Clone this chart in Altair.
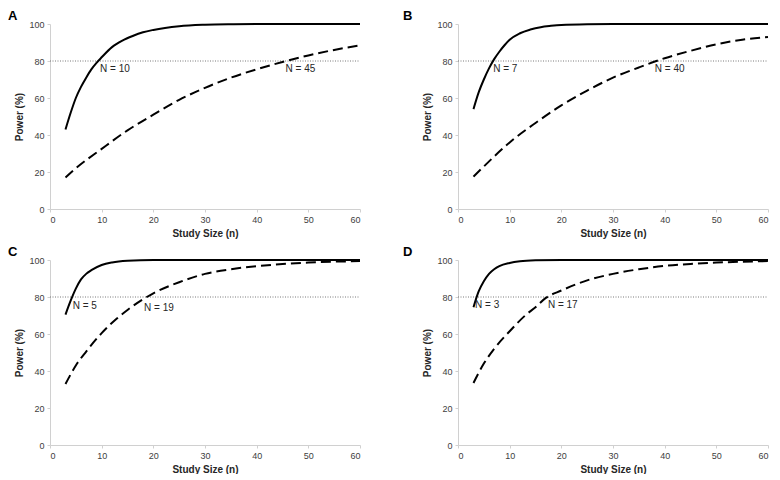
import altair as alt
import pandas as pd

# ---- data ----
panels = ["A", "B", "C", "D"]

solid_x = {
    "A": [3, 4, 5, 6, 7, 8, 9, 10, 12, 14, 16, 18, 20, 25, 30, 35, 40, 50, 60],
    "B": [3, 4, 5, 6, 7, 8, 9, 10, 12, 14, 16, 18, 20, 25, 30, 40, 50, 60],
    "C": [3, 4, 5, 6, 7, 8, 10, 12, 15, 20, 30, 40, 50, 60],
    "D": [3, 4, 5, 6, 7, 8, 10, 12, 15, 20, 30, 40, 50, 60],
}
solid_y = {
    "A": [43, 52, 60, 66, 71, 75.5, 79, 82, 87.5, 91, 93.5, 95.5, 96.8, 98.8, 99.6, 99.9, 100, 100, 100],
    "B": [54, 63, 70, 76, 81, 85, 88.5, 91.5, 95, 97, 98.3, 99, 99.5, 99.9, 100, 100, 100, 100],
    "C": [70.5, 78, 84.5, 89.5, 92.5, 94.5, 97.3, 98.7, 99.6, 100, 100, 100, 100, 100],
    "D": [74.5, 83, 88.5, 92.5, 95, 96.7, 98.4, 99.3, 99.8, 100, 100, 100, 100, 100],
}
dashed_x = {
    "A": [3, 5, 10, 15, 20, 25, 30, 35, 40, 45, 50, 55, 60],
    "B": [3, 5, 10, 15, 20, 25, 30, 35, 40, 45, 50, 55, 60],
    "C": [3, 5, 7, 10, 13, 15, 20, 25, 30, 35, 40, 45, 50, 55, 60],
    "D": [3, 5, 7, 10, 13, 15, 17, 20, 25, 30, 35, 40, 45, 50, 55, 60],
}
dashed_y = {
    "A": [17, 22, 32.5, 42.5, 51, 59, 65.5, 71, 75.5, 79.5, 83, 86, 88.5],
    "B": [17.5, 23, 36, 46.5, 56, 64, 71, 76.5, 81.5, 85.5, 89, 91.5, 93],
    "C": [33, 43, 50.5, 60.5, 68.5, 73, 82, 88, 92.5, 95, 96.7, 97.8, 98.6, 99.1, 99.4],
    "D": [33.5, 44, 52, 61.5, 70, 74.5, 79.5, 83.5, 89, 92.5, 95, 96.8, 97.9, 98.6, 99.1, 99.4],
}
label_text = {
    "A": ["N = 10", "N = 45"],
    "B": ["N = 7", "N = 40"],
    "C": ["N = 5", "N = 19"],
    "D": ["N = 3", "N = 17"],
}
label_x = {
    "A": [9.7, 45.6],
    "B": [6.8, 38.1],
    "C": [4.4, 18.2],
    "D": [3.3, 17.4],
}
label_y = {
    "A": [75.5, 75.5],
    "B": [75.5, 75.5],
    "C": [75, 74],
    "D": [75.5, 75.5],
}
threshold = 80
x_ticks = [0, 10, 20, 30, 40, 50, 60]
y_ticks = [0, 20, 40, 60, 80, 100]

# per-panel letter offset (px, left of the plot area)
letter_dx = {"A": -42, "B": -55, "C": -42, "D": -55}

FONT = "Liberation Sans"
AX = "#d0d0d0"
W, H = 310, 185


def panel(p):
    sol = pd.DataFrame({"n": solid_x[p], "power": solid_y[p]})
    das = pd.DataFrame({"n": dashed_x[p], "power": dashed_y[p]})
    lab = pd.DataFrame({"n": label_x[p], "power": label_y[p], "t": label_text[p]})
    ref = pd.DataFrame({"n": [0, 60], "power": [threshold, threshold]})

    x = alt.X("n:Q", scale=alt.Scale(domain=[0, 60], nice=False),
              axis=alt.Axis(values=x_ticks, title="Study Size (n)", grid=False))
    y = alt.Y("power:Q", scale=alt.Scale(domain=[0, 100], nice=False),
              axis=alt.Axis(values=y_ticks, title="Power (%)", grid=False))

    ref_line = alt.Chart(ref).mark_line(color="#7a7a7a", strokeWidth=1,
                                        strokeDash=[1, 1.5]).encode(x=x, y=y)
    s_line = alt.Chart(sol).mark_line(color="black", strokeWidth=2,
                                      interpolate="monotone").encode(x=x, y=y)
    d_line = alt.Chart(das).mark_line(color="black", strokeWidth=2,
                                      strokeDash=[10, 5],
                                      interpolate="monotone").encode(x=x, y=y)
    txt = alt.Chart(lab).mark_text(align="left", baseline="middle", fontSize=10,
                                   font=FONT, color="#262626").encode(
        x=x, y=y, text="t:N")
    letter = alt.Chart(pd.DataFrame({"t": [p]})).mark_text(
        align="left", baseline="top", fontSize=13, fontWeight="bold",
        font=FONT, color="black").encode(
        x=alt.value(letter_dx[p]), y=alt.value(-14), text="t:N")
    return alt.layer(ref_line, s_line, d_line, txt, letter).properties(width=W, height=H)


row1 = alt.hconcat(panel("A"), panel("B"), spacing=39)
row2 = alt.hconcat(panel("C"), panel("D"), spacing=39)

chart = alt.vconcat(row1, row2, spacing=8).properties(
    padding={"left": 0, "top": 2, "right": 0, "bottom": 0}
).configure_view(stroke=None).configure_axis(
    domainColor=AX, tickColor=AX, tickSize=3, labelFont=FONT, labelFontSize=9,
    labelColor="#404040", titleFont=FONT, titleFontSize=10, titleFontWeight="bold",
    titleColor="#262626", labelPadding=3, titlePadding=4
)

chart.save("out.html", embed_options={"renderer": "svg", "actions": False})
